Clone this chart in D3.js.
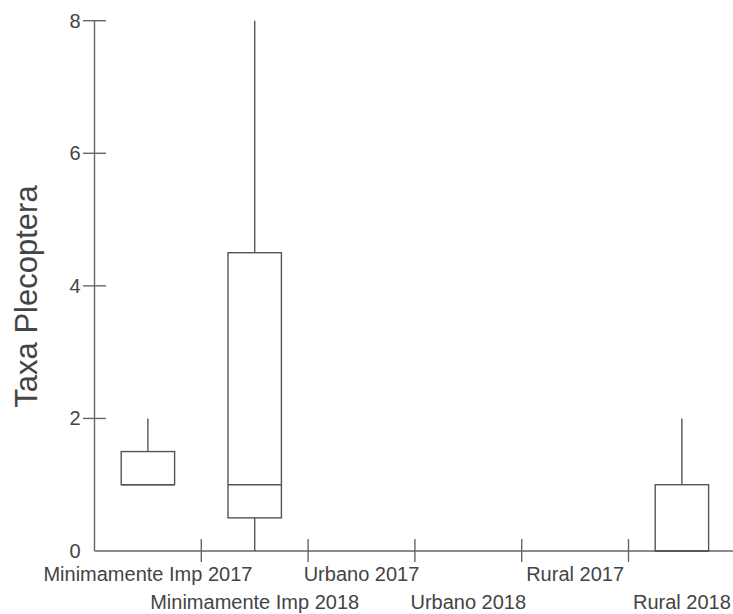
<!DOCTYPE html>
<html>
<head>
<meta charset="utf-8">
<script src="https://cdn.jsdelivr.net/npm/d3@7"></script>
<style>
  html, body { margin: 0; padding: 0; background: #fff; }
  svg { display: block; font-family: "Liberation Sans", Arial, sans-serif; }
</style>
</head>
<body>
<div id="chart"></div>
<script>
const categories = ["Minimamente Imp 2017", "Minimamente Imp 2018", "Urbano 2017", "Urbano 2018", "Rural 2017", "Rural 2018"];
const mins    = [1,   0,   0, 0, 0, 0];
const q1s     = [1,   0.5, 0, 0, 0, 0];
const medians = [1,   1,   0, 0, 0, 0];
const q3s     = [1.5, 4.5, 0, 0, 0, 1];
const maxs    = [2,   8,   0, 0, 0, 2];
const yTicks  = [0, 2, 4, 6, 8];
const yTitle  = "Taxa Plecoptera";

const W = 733, H = 614;
const svg = d3.select("#chart").append("svg").attr("width", W).attr("height", H);

const x = d3.scaleBand().domain(categories).range([94.5, 735.3]).padding(0);
const y = d3.scaleLinear().domain([0, 8]).range([551, 20.7]);

const axisColor = "#666";
const boxColor = "#555";
const textColor = "#444";

// Y axis
const yAxis = svg.append("g");
yAxis.append("line").attr("x1", 94.5).attr("x2", 94.5).attr("y1", y(8)).attr("y2", y(0))
  .attr("stroke", axisColor).attr("stroke-width", 1.4);
yTicks.forEach(t => {
  if (t !== 0) {
    yAxis.append("line").attr("x1", 83).attr("x2", 106).attr("y1", y(t)).attr("y2", y(t))
      .attr("stroke", axisColor).attr("stroke-width", 1.4);
  }
  yAxis.append("text").attr("x", 80.5).attr("y", y(t)).attr("dy", "0.35em")
    .attr("text-anchor", "end").attr("font-size", 20).attr("fill", textColor).text(t);
});

// X axis
const xAxis = svg.append("g");
xAxis.append("line").attr("x1", 94.5).attr("x2", W).attr("y1", y(0)).attr("y2", y(0))
  .attr("stroke", axisColor).attr("stroke-width", 1.4);
categories.forEach((c, i) => {
  if (i > 0) {
    const bx = x(c);
    xAxis.append("line").attr("x1", bx).attr("x2", bx).attr("y1", 539).attr("y2", 562)
      .attr("stroke", axisColor).attr("stroke-width", 1.4);
  }
  xAxis.append("text").attr("x", x(c) + x.bandwidth() / 2).attr("y", i % 2 === 0 ? 581 : 609)
    .attr("text-anchor", "middle").attr("font-size", 20).attr("fill", textColor).text(c);
});

// Boxes
const bw = x.bandwidth() / 2;
const g = svg.append("g").attr("fill", "none").attr("stroke", boxColor).attr("stroke-width", 1.4);
categories.forEach((c, i) => {
  if (maxs[i] === mins[i] && q3s[i] === q1s[i]) return;
  const cx = x(c) + x.bandwidth() / 2;
  const x0 = cx - bw / 2;
  if (maxs[i] > q3s[i]) g.append("line").attr("x1", cx).attr("x2", cx).attr("y1", y(maxs[i])).attr("y2", y(q3s[i]));
  if (mins[i] < q1s[i]) g.append("line").attr("x1", cx).attr("x2", cx).attr("y1", y(q1s[i])).attr("y2", y(mins[i]));
  g.append("rect").attr("x", x0).attr("y", y(q3s[i])).attr("width", bw).attr("height", y(q1s[i]) - y(q3s[i]));
  g.append("line").attr("x1", x0).attr("x2", x0 + bw).attr("y1", y(medians[i])).attr("y2", y(medians[i]));
});

// Y title
svg.append("text").attr("transform", `translate(37,296.5) rotate(-90)`)
  .attr("text-anchor", "middle").attr("font-size", 31).attr("fill", textColor).text(yTitle);
</script>
</body>
</html>
